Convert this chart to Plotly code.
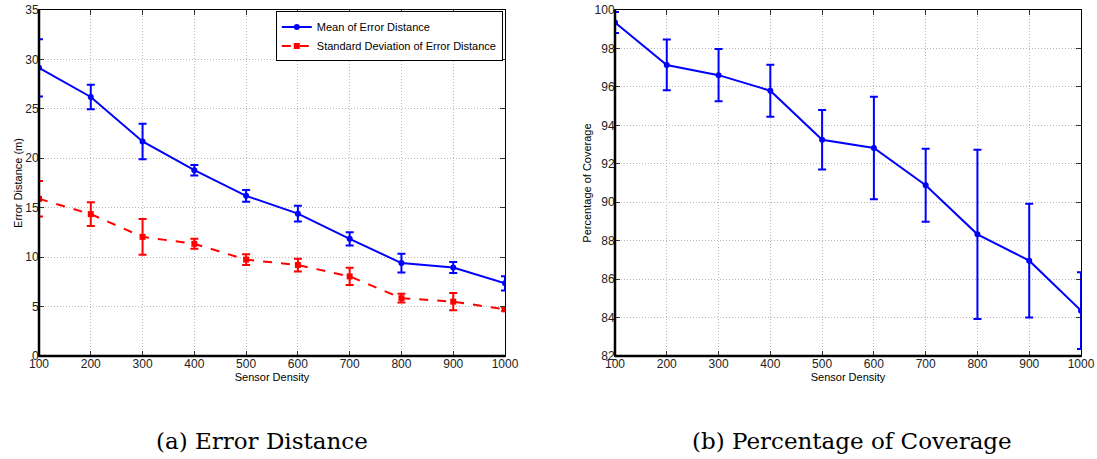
import plotly.graph_objects as go

# ---- data ----
density = [100, 200, 300, 400, 500, 600, 700, 800, 900, 1000]
mean_err = [29.15, 26.2, 21.7, 18.8, 16.2, 14.4, 11.85, 9.4, 8.95, 7.35]
mean_err_sd = [2.9, 1.25, 1.8, 0.53, 0.6, 0.8, 0.68, 0.95, 0.55, 0.72]
std_err = [15.9, 14.35, 12.05, 11.35, 9.75, 9.2, 8.05, 5.85, 5.5, 4.72]
std_err_sd = [1.8, 1.2, 1.8, 0.5, 0.55, 0.65, 0.88, 0.44, 0.87, 0.15]
coverage = [99.35, 97.14, 96.61, 95.8, 93.25, 92.82, 90.88, 88.33, 86.96, 84.36]
coverage_sd = [0.55, 1.32, 1.36, 1.35, 1.55, 2.67, 1.9, 4.4, 2.96, 2.0]
x_ticks = [100, 200, 300, 400, 500, 600, 700, 800, 900, 1000]
y1_ticks = [0, 5, 10, 15, 20, 25, 30, 35]
y2_ticks = [82, 84, 86, 88, 90, 92, 94, 96, 98, 100]

BLUE = "#0000ff"
RED = "#ff0000"
FONT = "Liberation Sans, Arial, sans-serif"

fig = go.Figure()

fig.add_trace(go.Scatter(
    x=density, y=mean_err, mode="lines+markers", name="Mean of Error Distance",
    line=dict(color=BLUE, width=2), marker=dict(symbol="circle", size=6, color=BLUE),
    error_y=dict(type="data", array=mean_err_sd, color=BLUE, thickness=2, width=4),
    xaxis="x", yaxis="y"))
fig.add_trace(go.Scatter(
    x=density, y=std_err, mode="lines+markers", name="Standard Deviation of Error Distance",
    line=dict(color=RED, width=2, dash="dash"), marker=dict(symbol="square", size=6, color=RED),
    error_y=dict(type="data", array=std_err_sd, color=RED, thickness=2, width=4),
    xaxis="x", yaxis="y"))
fig.add_trace(go.Scatter(
    x=density, y=coverage, mode="lines+markers", name="Percentage of Coverage",
    line=dict(color=BLUE, width=2), marker=dict(symbol="circle", size=6, color=BLUE),
    error_y=dict(type="data", array=coverage_sd, color=BLUE, thickness=2, width=4),
    xaxis="x2", yaxis="y2", showlegend=False))

xd1 = [39 / 1097, 505 / 1097]
xd2 = [615 / 1097, 1081 / 1097]
yd = [1 - 356 / 459, 1 - 10 / 459]

common_axis = dict(
    showline=True, linecolor="black", linewidth=1, mirror="ticks",
    ticks="inside", ticklen=5, tickcolor="#333333", tickwidth=1,
    showgrid=True, gridcolor="#b8b8b8", griddash="1px,2px", gridwidth=1,
    zeroline=False, tickfont=dict(family=FONT, size=12, color="#222222"),
    automargin=False, ticklabelstandoff=-3,
)

fig.update_layout(
    width=1097, height=459,
    margin=dict(l=0, r=0, t=0, b=0),
    paper_bgcolor="white", plot_bgcolor="white",
    font=dict(family=FONT, color="black"),
    xaxis=dict(common_axis, domain=xd1, range=[100, 1000], tickvals=x_ticks,
               title=dict(text="Sensor Density", font=dict(size=11), standoff=0),
               anchor="y"),
    yaxis=dict(common_axis, domain=yd, range=[0, 35], tickvals=y1_ticks,
               title=dict(text="Error Distance (m)", font=dict(size=11), standoff=0),
               anchor="x"),
    xaxis2=dict(common_axis, domain=xd2, range=[100, 1000], tickvals=x_ticks,
                title=dict(text="Sensor Density", font=dict(size=11), standoff=0),
                anchor="y2"),
    yaxis2=dict(common_axis, domain=yd, range=[82, 100], tickvals=y2_ticks,
                title=dict(text="Percentage of Coverage", font=dict(size=11), standoff=0),
                anchor="x2"),
    legend=dict(x=xd1[1] - 0.002, xanchor="right", y=yd[1] - 0.003, yanchor="top",
                bgcolor="white", bordercolor="black", borderwidth=1,
                font=dict(family=FONT, size=11), tracegroupgap=0, itemwidth=30),
    showlegend=True,
)

# thicker left/bottom axis lines (MATLAB look)
for xr, yr in (("x", "y"), ("x2", "y2")):
    fig.add_shape(type="line", xref=f"{xr} domain", yref=f"{yr} domain",
                  x0=0, x1=1, y0=0, y1=0, line=dict(color="black", width=2.5), layer="above")
    fig.add_shape(type="line", xref=f"{xr} domain", yref=f"{yr} domain",
                  x0=0, x1=0, y0=0, y1=1, line=dict(color="black", width=2.5), layer="above")

CAP = "DejaVu Serif, Liberation Serif, serif"
fig.add_annotation(text="(a) Error Distance", xref="paper", yref="paper",
                   x=262 / 1097, y=1 - 441 / 459, xanchor="center", yanchor="middle",
                   showarrow=False, font=dict(family=CAP, size=23, color="black"))
fig.add_annotation(text="(b) Percentage of Coverage", xref="paper", yref="paper",
                   x=852 / 1097, y=1 - 441 / 459, xanchor="center", yanchor="middle",
                   showarrow=False, font=dict(family=CAP, size=23, color="black"))

fig.write_html("out.html")
